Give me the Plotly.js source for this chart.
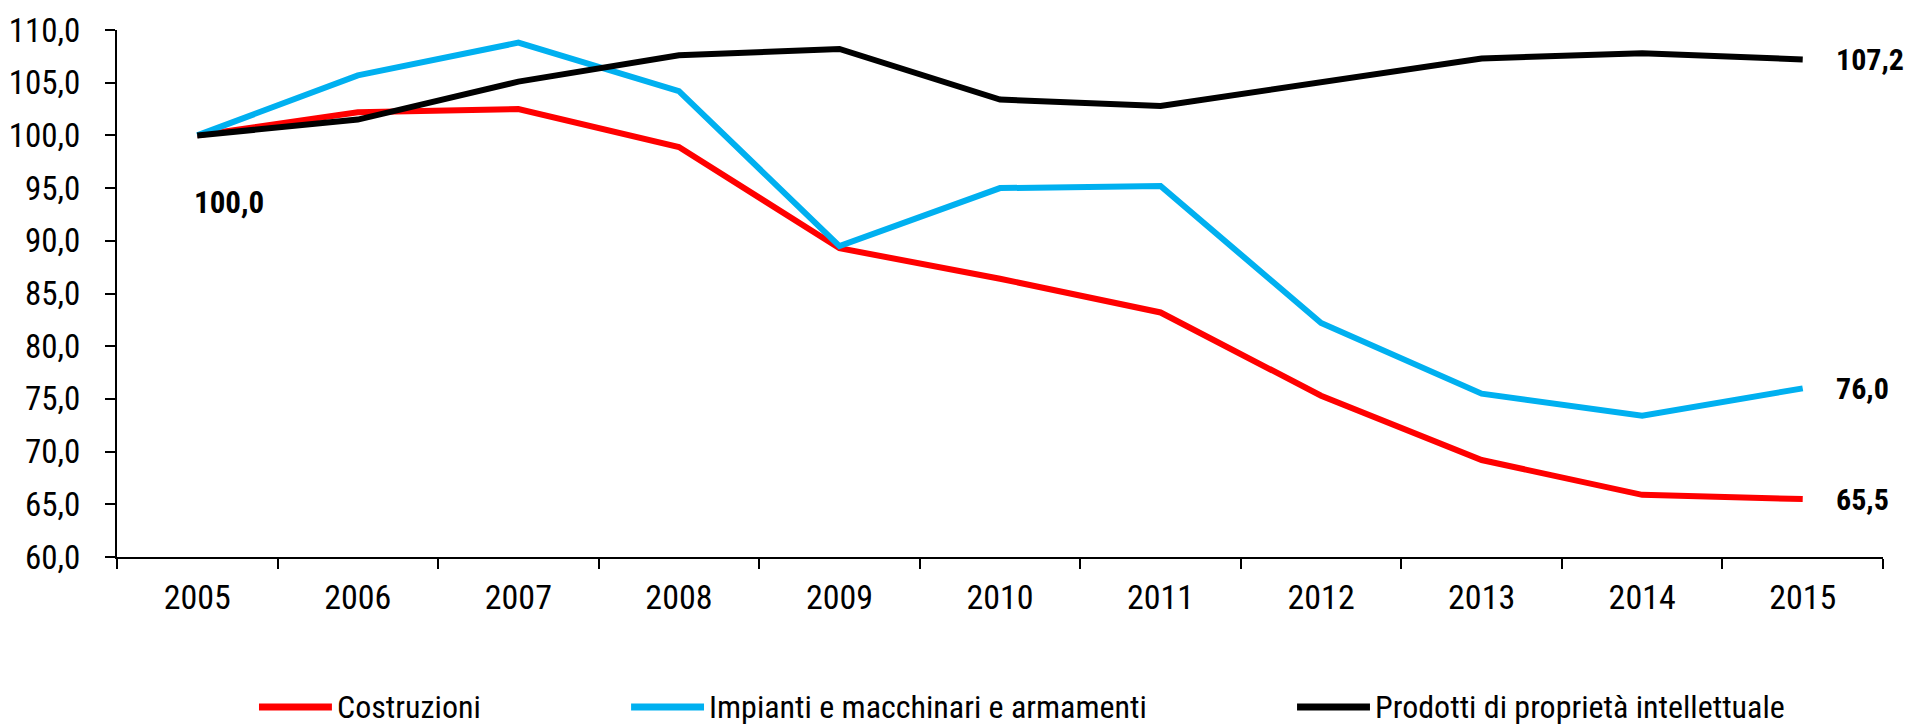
<!DOCTYPE html>
<html>
<head>
<meta charset="utf-8">
<script src="https://cdn.plot.ly/plotly-3.0.1.min.js"></script>
<style>
  html, body { margin: 0; padding: 0; background: #ffffff; }
  #chart { width: 1908px; height: 728px; }
</style>
</head>
<body>
<div id="chart"></div>
<script>
// ---- data ----
const years = ['2005','2006','2007','2008','2009','2010','2011','2012','2013','2014','2015'];
const seriesNames = ['Costruzioni', 'Impianti e macchinari e armamenti', 'Prodotti di proprietà intellettuale'];
const costruzioni = [100.0, 102.2, 102.5, 98.9, 89.3, 86.4, 83.2, 75.3, 69.2, 65.9, 65.5];
const impianti    = [100.0, 105.7, 108.8, 104.2, 89.5, 95.0, 95.2, 82.2, 75.5, 73.4, 76.0];
const prodotti    = [100.0, 101.5, 105.1, 107.6, 108.2, 103.4, 102.8, 105.1, 107.3, 107.8, 107.2];

// ---- styles ----
const colors = ['#FF0000', '#00B0F0', '#000000'];
const FONT = '"Liberation Sans Narrow", "Arial Narrow", "Roboto Condensed", Arial, sans-serif';
const seriesValues = [costruzioni, impianti, prodotti];

const fmt = v => v.toFixed(1).replace('.', ',');

const traces = seriesValues.map((vals, i) => ({
  type: 'scatter',
  mode: 'lines',
  x: years,
  y: vals,
  name: seriesNames[i],
  line: { color: colors[i], width: 6, shape: 'linear' },
  showlegend: false,
  hoverinfo: 'x+y+name'
}));

const annotations = [];
const lastIdx = years.length - 1;
// start label (all series at 100 in 2005) - category index 0
annotations.push({
  x: 0, y: costruzioni[0], xref: 'x', yref: 'y',
  text: '<b>' + fmt(costruzioni[0]) + '</b>',
  showarrow: false, xanchor: 'left', yanchor: 'middle',
  xshift: -5, yshift: -67,
  font: { family: FONT, size: 31, color: '#000000' }
});
// end labels
seriesValues.forEach((vals, i) => {
  annotations.push({
    x: lastIdx, y: vals[lastIdx], xref: 'x', yref: 'y',
    text: '<b>' + fmt(vals[lastIdx]) + '</b>',
    showarrow: false, xanchor: 'left', yanchor: 'middle',
    xshift: 31, yshift: 0,
    font: { family: FONT, size: 30, color: '#000000' }
  });
});

// custom legend (long line symbols)
const legendX = [0.0804, 0.2911, 0.6682];
const legendLen = 0.0413;
const legendY = -0.2846;
const shapes = [];
seriesNames.forEach((nm, i) => {
  shapes.push({
    type: 'line', xref: 'paper', yref: 'paper',
    x0: legendX[i], x1: legendX[i] + legendLen, y0: legendY, y1: legendY,
    line: { color: colors[i], width: 7 }
  });
  annotations.push({
    x: legendX[i] + legendLen + 0.0015, y: legendY, xref: 'paper', yref: 'paper',
    text: nm, showarrow: false, xanchor: 'left', yanchor: 'middle',
    font: { family: FONT, size: 32, color: '#000000' }
  });
});

const layout = {
  width: 1908, height: 728,
  margin: { l: 117, r: 25, t: 30, b: 171, pad: 0 },
  paper_bgcolor: '#ffffff', plot_bgcolor: '#ffffff',
  separators: ',.',
  font: { family: FONT, size: 34, color: '#000000' },
  showlegend: false,
  xaxis: {
    type: 'category',
    range: [-0.5, years.length - 0.5],
    tickson: 'boundaries',
    ticks: 'outside', ticklen: 10, tickwidth: 2, tickcolor: '#000000',
    showline: true, linecolor: '#000000', linewidth: 2,
    showgrid: false, zeroline: false,
    ticklabelstandoff: 9,
    tickfont: { family: FONT, size: 34, color: '#000000' }
  },
  yaxis: {
    range: [60, 110],
    dtick: 5, tick0: 60,
    tickformat: '.1f',
    ticks: 'outside', ticklen: 10, tickwidth: 2, tickcolor: '#000000',
    showline: true, linecolor: '#000000', linewidth: 2,
    showgrid: false, zeroline: false,
    ticklabelstandoff: 18,
    tickfont: { family: FONT, size: 33, color: '#000000' }
  },
  annotations: annotations,
  shapes: shapes
};

Plotly.newPlot('chart', traces, layout, { displayModeBar: false, staticPlot: true });
</script>
</body>
</html>
